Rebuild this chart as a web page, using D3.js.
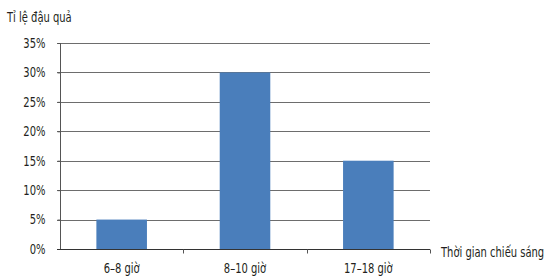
<!DOCTYPE html>
<html>
<head>
<meta charset="utf-8">
<script src="https://cdn.jsdelivr.net/npm/d3@7"></script>
<style>
  body { margin: 0; background: #fff; }
  svg text { font-family: "DejaVu Sans", sans-serif; font-stretch: condensed; fill: #231f20; }
</style>
</head>
<body>
<script>
//Width and height
var w = 560;
var h = 279;

var categories = ["6\u20138 giờ", "8\u201310 giờ", "17\u201318 giờ"];
var values = [0.05, 0.3, 0.15];
var yTicks = [0, 0.05, 0.1, 0.15, 0.2, 0.25, 0.3, 0.35];

var mLeft = 60, mRight = 430, mTop = 43, mBottom = 249;
var fs = "13.5px";

var xScale = d3
  .scaleBand()
  .domain(categories)
  .range([mLeft, mRight])
  .paddingInner(0.59)
  .paddingOuter(0.295);

var bandScale = d3.scaleBand().domain(categories).range([mLeft, mRight]);

var yScale = d3.scaleLinear().domain([0, 0.35]).range([mBottom, mTop]);

//Create SVG element
var svg = d3.select("body").append("svg").attr("width", w).attr("height", h);

//Gridlines
svg
  .selectAll("line.grid")
  .data(yTicks.slice(1))
  .enter()
  .append("line")
  .attr("class", "grid")
  .attr("x1", mLeft - 3)
  .attr("x2", mRight)
  .attr("y1", function (d) { return Math.round(yScale(d)) + 0.5; })
  .attr("y2", function (d) { return Math.round(yScale(d)) + 0.5; })
  .attr("stroke", "#6d6d6d")
  .attr("stroke-width", 1);

//Create bars
svg
  .selectAll("rect")
  .data(values)
  .enter()
  .append("rect")
  .attr("x", function (d, i) { return xScale(categories[i]); })
  .attr("y", function (d) { return yScale(d); })
  .attr("width", xScale.bandwidth())
  .attr("height", function (d) { return mBottom - yScale(d); })
  .attr("fill", "#4a7ebb");

//Y axis
var yAxis = d3
  .axisLeft(yScale)
  .tickValues(yTicks)
  .tickSize(3)
  .tickPadding(12)
  .tickFormat(function (d) { return Math.round(d * 100) + "%"; });

var gy = svg.append("g").attr("transform", "translate(" + (mLeft + 0.5) + ",0)").call(yAxis);
gy.attr("font-family", null).attr("font-size", null);
gy.select(".domain").attr("stroke", "#555").attr("d", "M0," + mTop + "V" + mBottom);
gy.selectAll(".tick line").attr("stroke", "#555");
gy.selectAll("text")
  .attr("font-size", fs)
  .attr("fill", "#231f20");

//X axis
var gx = svg.append("g").attr("transform", "translate(0," + (mBottom + 0.5) + ")");
gx.append("line")
  .attr("x1", mLeft - 3)
  .attr("x2", mRight)
  .attr("stroke", "#333");
gx.selectAll("line.tick")
  .data(categories)
  .enter()
  .append("line")
  .attr("class", "tick")
  .attr("x1", function (d) { return Math.round(bandScale(d) + bandScale.step()) + 0.5; })
  .attr("x2", function (d) { return Math.round(bandScale(d) + bandScale.step()) + 0.5; })
  .attr("y1", 0)
  .attr("y2", 4)
  .attr("stroke", "#555");

//Category labels
svg
  .selectAll("text.cat")
  .data(categories)
  .enter()
  .append("text")
  .attr("class", "cat")
  .text(function (d) { return d; })
  .attr("text-anchor", "middle")
  .attr("x", function (d) { return bandScale(d) + bandScale.bandwidth() / 2; })
  .attr("y", 273)
  .attr("font-size", fs);

//Axis titles
svg.append("text")
  .text("Tỉ lệ đậu quả")
  .attr("x", 7)
  .attr("y", 22)
  .attr("font-size", fs);

svg.append("text")
  .text("Thời gian chiếu sáng")
  .attr("x", 441)
  .attr("y", 257)
  .attr("font-size", fs);

//squeeze all text to look like a condensed face
svg.selectAll("text").each(function () {
  var len = this.getComputedTextLength();
  d3.select(this)
    .attr("textLength", len * 0.82)
    .attr("lengthAdjust", "spacingAndGlyphs");
});
</script>
</body>
</html>
